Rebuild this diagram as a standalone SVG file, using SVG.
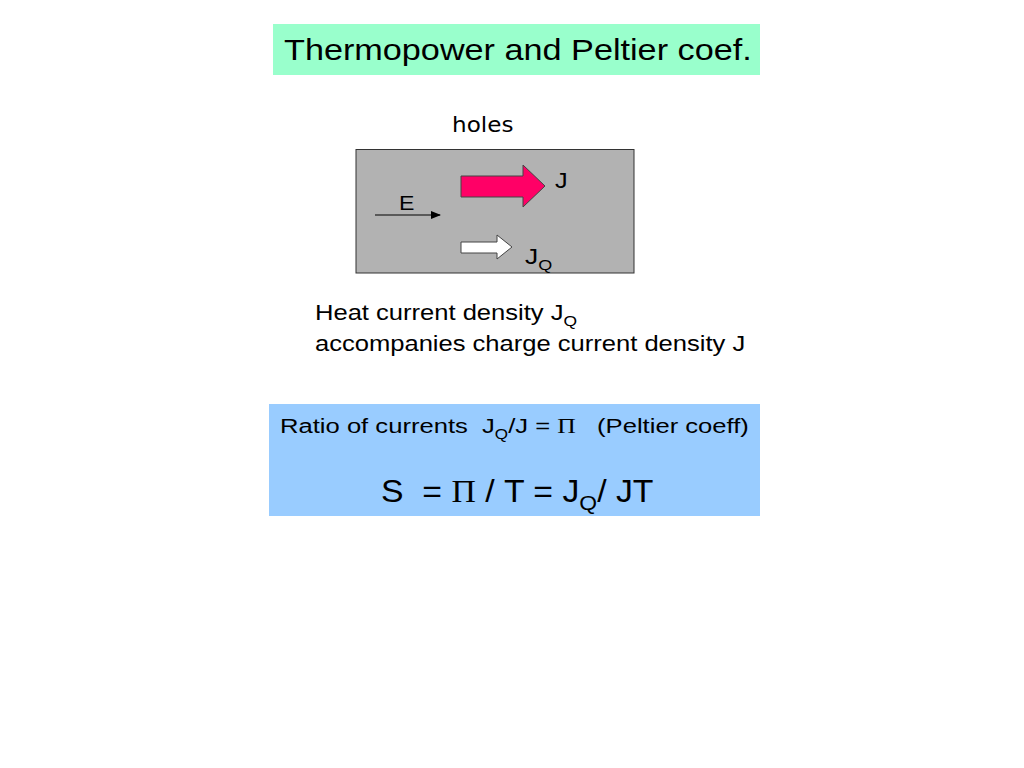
<svg xmlns="http://www.w3.org/2000/svg" width="1024" height="768" viewBox="0 0 1024 768">
<defs>
<style>
.s{font-family:"Liberation Sans",Arial,sans-serif;fill:#000}
.p{font-family:"Liberation Serif","Times New Roman",serif}
</style>
<marker id="ah" markerWidth="10" markerHeight="8" refX="9" refY="4" orient="auto" markerUnits="userSpaceOnUse">
<path d="M0,0 L10,4 L0,8 Z" fill="#000"/>
</marker>
</defs>
<rect width="1024" height="768" fill="#fff"/>
<g id="title">
<rect x="273" y="24" width="487" height="51" fill="#99FFCC"/>
<text class="s" transform="translate(284,60) scale(1.18,1)" font-size="29">Thermopower and Peltier coef.</text>
</g>
<g id="holes-label">
<text transform="translate(452,132) scale(1.1,1)" font-family="'DejaVu Sans',sans-serif" font-size="21">holes</text>
</g>
<g id="sample">
<rect x="356" y="149.500" width="278" height="123.500" fill="#B2B2B2" stroke="#333" stroke-width="1"/>
</g>
<g id="connectors">
<line x1="375" y1="215" x2="440" y2="215" stroke="#000" stroke-width="1.2" marker-end="url(#ah)"/>
<path id="J-arrow" d="M461,176 L523,176 L523,165 L545,186 L523,207 L523,197 L461,197 Z" fill="#FF0066" stroke="#444" stroke-width="1"/>
<path id="JQ-arrow" d="M461,242 L497,242 L497,235 L512,247 L497,259 L497,253 L461,253 Z" fill="#fff" stroke="#444" stroke-width="1"/>
</g>
<g id="labels">
<text class="s" transform="translate(399,210) scale(1.1,1)" font-size="21">E</text>
<text class="s" transform="translate(555,188) scale(1.15,1)" font-size="22">J</text>
<text class="s" transform="translate(525,264) scale(1.2,1)" font-size="22">J<tspan font-size="15" dy="6">Q</tspan></text>
</g>
<g id="caption">
<text class="s" transform="translate(315,320) scale(1.162,1)" font-size="22">Heat current density J<tspan font-size="15" dy="6">Q</tspan></text>
<text class="s" transform="translate(315,351) scale(1.162,1)" font-size="22">accompanies charge current density J</text>
</g>
<g id="ratio-box">
<rect x="269" y="404" width="491" height="112" fill="#99CCFF"/>
<text class="s" transform="translate(280,433) scale(1.22,1)" font-size="21" xml:space="preserve">Ratio of currents  J<tspan font-size="14" dy="6">Q</tspan><tspan dy="-6">/J = </tspan><tspan class="p">Π</tspan>   (Peltier coeff)</text>
<text class="s" transform="translate(381,502) scale(1.09,1)" font-size="31" xml:space="preserve">S  = <tspan class="p">Π</tspan> / T = J<tspan font-size="21" dy="8">Q</tspan><tspan dy="-8">/ JT</tspan></text>
</g>
</svg>
